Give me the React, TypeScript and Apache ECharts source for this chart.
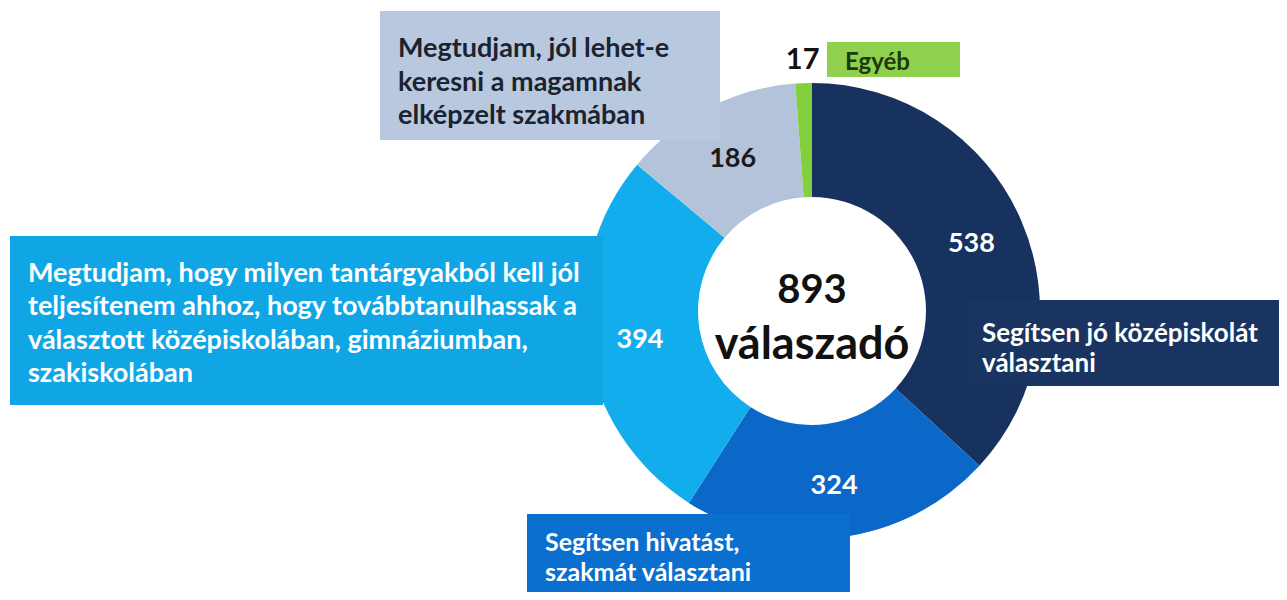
import React, { useEffect, useRef } from "react";
import * as echarts from "echarts";

const categories = [
  "Segítsen jó középiskolát\nválasztani",
  "Segítsen hivatást,\nszakmát választani",
  "Megtudjam, hogy milyen tantárgyakból kell jól\nteljesítenem ahhoz, hogy továbbtanulhassak a\nválasztott középiskolában, gimnáziumban,\nszakiskolában",
  "Megtudjam, jól lehet-e\nkeresni a magamnak\nelképzelt szakmában",
  "Egyéb",
];
const values = [538, 324, 394, 186, 17];
const sliceColors = ["#17325f", "#0b68c9", "#12adec", "#b3c3d9", "#84cf3e"];
const valueColors = ["#ffffff", "#ffffff", "#ffffff", "#1a1a1a", "#111111"];
const totalRespondents = 893;
const centerCaption = "válaszadó";

const FONT = "Lato, 'Open Sans', sans-serif";

export default function App() {
  const ref = useRef<HTMLDivElement>(null);
  useEffect(() => {
    if (!ref.current) return;
    const chart = echarts.init(ref.current, undefined, { renderer: "svg" });
    const cx = 812;
    const cy = 311;

    const boxes = [
      { x: 967, y: 300, w: 330, h: 86, fill: "#1a3462", color: "#ffffff", tx: 982, ty: 317, size: 26, lh: 30 },
      { x: 527, y: 514, w: 323, h: 100, fill: "#0a6fcf", color: "#ffffff", tx: 545, ty: 526, size: 25, lh: 30 },
      { x: 10, y: 236, w: 593, h: 169, fill: "#10a6e6", color: "#ffffff", tx: 28, ty: 255, size: 27, lh: 33.3 },
      { x: 380, y: 11, w: 340, h: 129, fill: "#b8c9df", color: "#1b2230", tx: 398, ty: 30, size: 27, lh: 33.5 },
      { x: 827, y: 42, w: 133, h: 35, fill: "#8fd14f", color: "#1d3a0c", tx: 845, ty: 46, size: 24, lh: 28 },
    ];

    const graphics: any[] = [];
    boxes.forEach((b, i) => {
      graphics.push({
        type: "rect",
        shape: { x: b.x, y: b.y, width: b.w, height: b.h },
        style: { fill: b.fill },
        z: 1,
      });
      graphics.push({
        type: "text",
        x: b.tx,
        y: b.ty,
        style: {
          text: categories[i],
          fill: b.color,
          font: `bold ${b.size}px ${FONT}`,
          lineHeight: b.lh,
          verticalAlign: "top",
          align: "left",
        },
        z: 2,
      });
    });
    graphics.push({
      type: "circle",
      shape: { cx, cy, r: 114 },
      style: { fill: "#ffffff" },
      z: 0,
    });
    graphics.push({
      type: "text",
      x: cx,
      y: 288,
      style: {
        text: String(totalRespondents),
        fill: "#111111",
        font: `bold 40px ${FONT}`,
        align: "center",
        verticalAlign: "middle",
      },
      z: 5,
    });
    graphics.push({
      type: "text",
      x: cx,
      y: 342,
      style: {
        text: centerCaption,
        fill: "#111111",
        font: `bold 45px ${FONT}`,
        align: "center",
        verticalAlign: "middle",
      },
      z: 5,
    });

    chart.setOption({
      animation: false,
      backgroundColor: "#ffffff",
      graphic: graphics,
      series: [
        {
          type: "pie",
          center: [cx, cy],
          radius: [114, 228],
          startAngle: 90,
          clockwise: true,
          silent: true,
          z: 0,
          zlevel: 0,
          itemStyle: { borderWidth: 0 },
          labelLine: { show: false },
          data: values.map((v, i) => ({
            value: v,
            name: categories[i],
            itemStyle: { color: sliceColors[i] },
            label: {
              show: true,
              position: "inside",
              formatter: "{c}",
              color: valueColors[i],
              fontFamily: FONT,
              fontWeight: "bold",
              fontSize: i === 4 ? 29 : 27,
              offset: i === 4 ? [-3, -80] : [0, 0],
            },
          })),
        },
      ],
    });
    return () => chart.dispose();
  }, []);
  return <div ref={ref} style={{ width: 1287, height: 600, margin: -8 }} />;
}
